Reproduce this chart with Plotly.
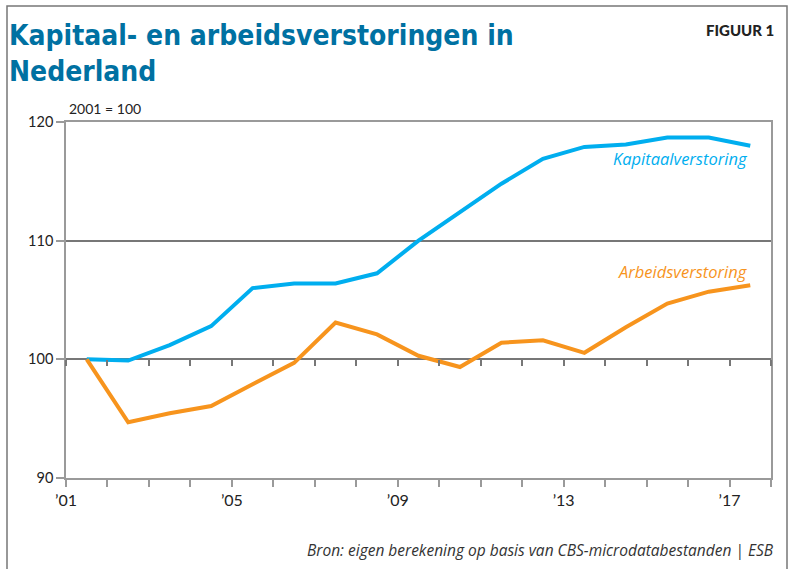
import plotly.graph_objects as go

years = list(range(2001, 2018))
kapitaal = [100.0, 99.9, 101.2, 102.8, 106.0, 106.4, 106.4, 107.25, 110.0, 112.4,
            114.8, 116.9, 117.9, 118.1, 118.7, 118.7, 118.0]
arbeid = [100.0, 94.7, 95.45, 96.07, 97.9, 99.7, 103.1, 102.1, 100.3, 99.35,
          101.4, 101.6, 100.55, 102.7, 104.7, 105.7, 106.25]
tick_years = list(range(2001, 2019))
tick_labels = ["’01" if y == 2001 else ("’%02d" % (y % 100) if y in (2005, 2009, 2013, 2017) else "")
               for y in tick_years]
y_ticks = [90, 100, 110, 120]

BLUE = "#00AEEF"
ORANGE = "#F7941D"
TITLE = "#0071A2"

# mid-year positions
xk = [y + 0.5 for y in years]

fig = go.Figure()
fig.add_trace(go.Scatter(x=xk, y=kapitaal, mode="lines", line=dict(color=BLUE, width=4),
                         name="Kapitaalverstoring", xaxis="x", yaxis="y", hoverinfo="skip"))
fig.add_trace(go.Scatter(x=xk, y=arbeid, mode="lines", line=dict(color=ORANGE, width=4),
                         name="Arbeidsverstoring", xaxis="x2", yaxis="y", hoverinfo="skip"))

L, R, T, B = 66, 20, 122, 91
W, H = 791, 569
pw, ph = W - L - R, H - T - B

def px_x(p):
    return (p - L) / pw

def px_y(p):
    return (H - B - p) / ph

fig.update_layout(
    width=W, height=H,
    margin=dict(l=L, r=R, t=T, b=B),
    paper_bgcolor="white", plot_bgcolor="white",
    showlegend=False,
    font=dict(family="Lato", color="#222"),
    xaxis=dict(range=[2001, 2018], tickvals=tick_years, ticktext=tick_labels,
               showgrid=False, zeroline=False, showline=True, mirror=True,
               linecolor="#9a9a9a", linewidth=1.5,
               ticks="outside", ticklen=7, tickcolor="#9a9a9a", tickwidth=1.5,
               tickfont=dict(family="Lato", size=16, color="#222")),
    xaxis2=dict(range=[2001, 2018], matches="x", overlaying="x", anchor="free",
                position=(100 - 90) / (120 - 90), tickvals=tick_years,
                showticklabels=False, showgrid=False, zeroline=False,
                showline=False, ticks="outside", ticklen=6, tickcolor="#777",
                tickwidth=1.5),
    yaxis=dict(range=[90, 120], tickvals=y_ticks, showgrid=True, gridcolor="#777",
               gridwidth=1.5, zeroline=False, showline=True, mirror=True,
               linecolor="#9a9a9a", linewidth=1.5,
               ticks="outside", ticklen=8, tickcolor="#9a9a9a", tickwidth=1.5,
               tickfont=dict(family="Lato", size=14.5, color="#222")),
)

fig.add_annotation(text="Kapitaal- en arbeidsverstoringen in<br>Nederland",
                   xref="paper", yref="paper", x=px_x(7), y=px_y(17),
                   xanchor="left", yanchor="top", align="left", showarrow=False,
                   font=dict(family="DejaVu Sans Condensed, Roboto Condensed, Roboto",
                             size=28, color=TITLE, weight="bold"))
fig.add_annotation(text="FIGUUR 1", xref="paper", yref="paper", x=px_x(776), y=px_y(30),
                   xanchor="right", yanchor="middle", showarrow=False,
                   font=dict(family="Lato", size=15, color="#222", weight=900))
fig.add_annotation(text="2001 = 100", xref="paper", yref="paper", x=px_x(67), y=px_y(108),
                   xanchor="left", yanchor="middle", showarrow=False,
                   font=dict(family="Lato", size=14, color="#222"))
fig.add_annotation(text="<i>Kapitaalverstoring</i>", xref="x", yref="y", x=xk[-1], y=116.9,
                   xanchor="right", yanchor="middle", showarrow=False,
                   font=dict(family="Open Sans", size=16.5, color=BLUE))
fig.add_annotation(text="<i>Arbeidsverstoring</i>", xref="x", yref="y", x=xk[-1], y=107.4,
                   xanchor="right", yanchor="middle", showarrow=False,
                   font=dict(family="Open Sans", size=16.5, color=ORANGE))
fig.add_annotation(text="<i>Bron: eigen berekening op basis van CBS-microdatabestanden | ESB</i>",
                   xref="paper", yref="paper", x=px_x(776), y=px_y(550),
                   xanchor="right", yanchor="middle", showarrow=False,
                   font=dict(family="Open Sans", size=15.5, color="#333"))

# outer frame
fig.add_shape(type="rect", xref="paper", yref="paper",
              x0=px_x(7), x1=px_x(787), y0=px_y(600), y1=px_y(6),
              line=dict(color="#777", width=1.5), fillcolor="rgba(0,0,0,0)", layer="below")

fig.write_html("out.html", config={"displayModeBar": False},
               post_script="document.body.style.margin='0';document.body.style.overflow='hidden';")
